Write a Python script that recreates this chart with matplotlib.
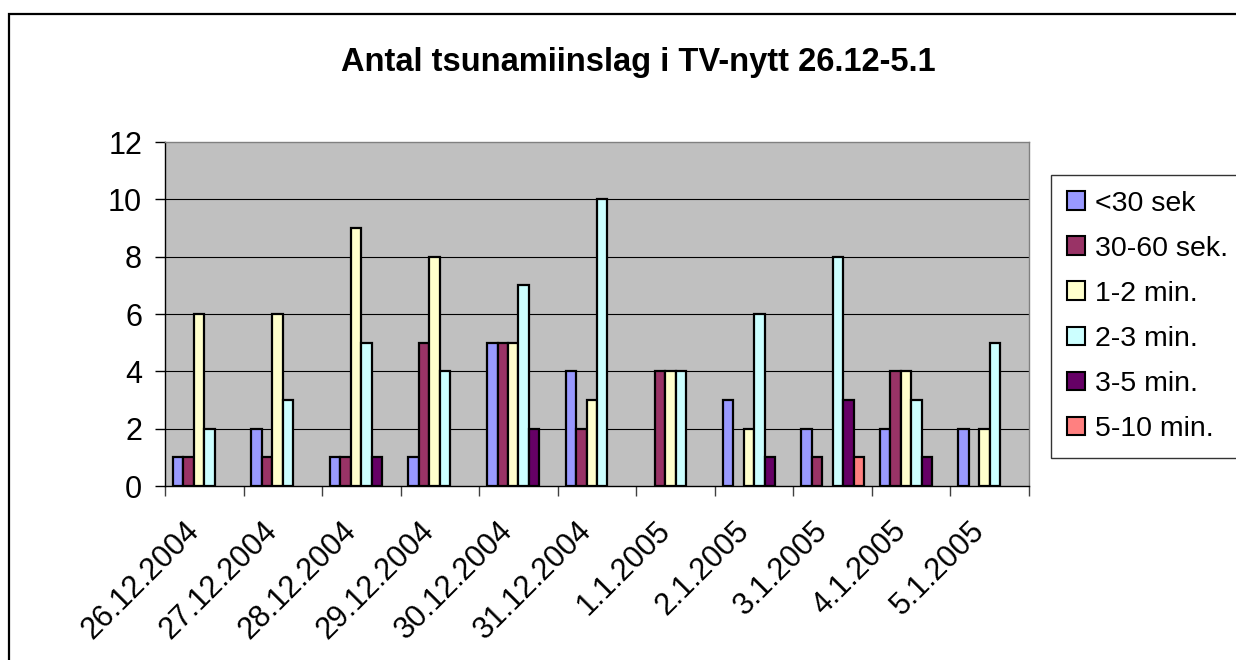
import numpy as np
import matplotlib
matplotlib.use("Agg")
import matplotlib.pyplot as plt
from matplotlib.patches import Rectangle

plt.rcParams['font.family'] = ['Liberation Sans', 'DejaVu Sans']

# data
dates = ["26.12.2004", "27.12.2004", "28.12.2004", "29.12.2004", "30.12.2004",
         "31.12.2004", "1.1.2005", "2.1.2005", "3.1.2005", "4.1.2005", "5.1.2005"]
series_names = ["<30 sek", "30-60 sek.", "1-2 min.", "2-3 min.", "3-5 min.", "5-10 min."]
under_30s = [1, 2, 1, 1, 5, 4, 0, 3, 2, 2, 2]
s30_60 = [1, 1, 1, 5, 5, 2, 4, 0, 1, 4, 0]
m1_2 = [6, 6, 9, 8, 5, 3, 4, 2, 0, 4, 2]
m2_3 = [2, 3, 5, 4, 7, 10, 4, 6, 8, 3, 5]
m3_5 = [0, 0, 1, 0, 2, 0, 0, 1, 3, 1, 0]
m5_10 = [0, 0, 0, 0, 0, 0, 0, 0, 1, 0, 0]
all_series = [under_30s, s30_60, m1_2, m2_3, m3_5, m5_10]
colors = ["#9999FF", "#993366", "#FFFFCC", "#CCFFFF", "#660066", "#FF8080"]

W, H = 1236, 660
fig = plt.figure(figsize=(W / 100, H / 100), dpi=100)
ax = fig.add_axes([165 / W, 1 - 486 / H, (1029 - 165) / W, (486 - 142) / H])
ax.set_facecolor("#C0C0C0")

x = np.arange(len(dates))
n = len(all_series)
bw = 1 / (n + 1.5)  # excel gap width 150%
for j, (vals, name, c) in enumerate(zip(all_series, series_names, colors)):
    h = np.array(vals, dtype=float)
    h[h == 0] = np.nan  # excel draws nothing for zero
    ax.bar(x + (j - (n - 1) / 2) * bw, h, width=bw, color=c,
           edgecolor="black", linewidth=1.6, label=name, zorder=3)

ax.set_xlim(-0.5, len(dates) - 0.5)
ax.set_ylim(0, 12)
yt = np.arange(0, 13, 2)
ax.set_yticks(yt)
for v in yt[1:-1]:
    ax.axhline(v, color="black", linewidth=0.8, zorder=1)

ax.set_xticks(np.arange(-0.5, len(dates)), labels=[])
# labels sit a bit left of the group centre like in excel
ax.set_xticks(x - 0.26, labels=dates, minor=True)
ax.tick_params(axis="x", which="major", length=7.5, width=1, color="#404040", direction="out")
ax.tick_params(axis="x", which="minor", length=0, pad=21.5, labelsize=22)
ax.tick_params(axis="y", length=7.5, width=1, pad=9, labelsize=22)
for lab in ax.get_xticklabels(minor=True):
    lab.set_rotation(45)
    lab.set_ha("right")
    lab.set_va("top")
    lab.set_rotation_mode("anchor")

for s in ["top", "right"]:
    ax.spines[s].set_color("#808080")
    ax.spines[s].set_linewidth(1)
for s in ["left", "bottom"]:
    ax.spines[s].set_color("black")
    ax.spines[s].set_linewidth(1)

fig.text(638 / W, 1 - 62 / H, "Antal tsunamiinslag i TV-nytt 26.12-5.1",
         ha="center", va="center", fontsize=23.5, fontweight="bold")

leg = fig.legend(loc="upper left", mode="expand",
                 bbox_to_anchor=(1051 / W, 1 - 453 / H, (1245 - 1051) / W, (453 - 175) / H),
                 fontsize=20.5, frameon=True, fancybox=False, borderpad=0.55,
                 labelspacing=0.67, handlelength=0.63, handleheight=0.63,
                 handletextpad=0.38, borderaxespad=0)
leg.get_frame().set_edgecolor("black")
leg.get_frame().set_linewidth(1)
for hnd in leg.legend_handles:
    hnd.set_linewidth(1.5)

fig.patches.append(Rectangle((9 / W, -0.05), 1.1, 1 - 14 / H + 0.05,
                             transform=fig.transFigure, fill=False,
                             edgecolor="black", linewidth=1.6))

fig.savefig("out.png", dpi=100)
